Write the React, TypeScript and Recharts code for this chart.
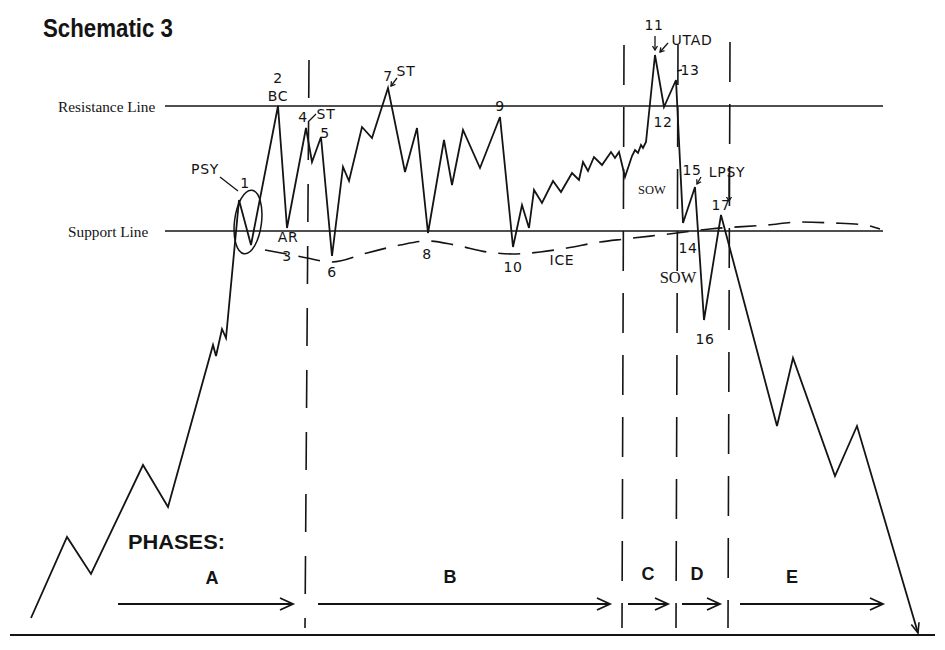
import React from 'react';
import { ComposedChart, Line, XAxis, YAxis, ReferenceLine, ReferenceDot } from 'recharts';

// ---- data (time units, price units; support = 100, resistance = 125) ----
const priceT = [3.1, 6.7, 9.1, 14.3, 16.8, 21.3, 21.6, 22.2, 22.6, 23.9, 25.1, 27.8, 28.7, 30.6, 31.2, 32.1, 33.2, 34.3, 34.9, 36.2, 37.2, 38.8, 40.5, 41.7, 42.8, 44.4, 45.2, 46.3, 48.0, 50.0, 51.3, 52.2, 52.9, 53.4, 54.2, 55.3, 56.1, 57.2, 57.9, 58.3, 58.8, 59.4, 60.2, 61.1, 61.5, 61.9, 62.5, 63.2, 63.5, 63.8, 64.1, 64.3, 64.6, 65.5, 66.4, 67.6, 68.3, 69.5, 70.4, 72.1, 77.7, 79.3, 83.5, 85.7, 91.8];
const priceP = [22.6, 38.8, 31.4, 53.2, 44.8, 77.2, 75.0, 80.4, 78.6, 106.2, 97.2, 125.0, 100.6, 120.6, 113.8, 118.8, 95.0, 112.8, 110.0, 120.8, 118.6, 128.6, 111.8, 120.6, 99.6, 118.2, 109.2, 120.2, 112.6, 122.8, 96.8, 105.2, 100.6, 108.2, 105.6, 110.0, 107.8, 111.6, 110.2, 113.8, 112.0, 114.8, 113.2, 115.8, 114.6, 115.8, 110.8, 115.0, 116.2, 115.6, 117.2, 116.6, 117.8, 135.2, 124.8, 130.2, 101.6, 108.8, 82.2, 103.2, 61.0, 74.6, 51.0, 61.0, 19.6];

const iceT = [26.5, 28.7, 30.7, 33.2, 36.7, 40.0, 42.7, 45.5, 48.7, 51.3, 54.0, 56.7, 60.0, 62.5, 67.7, 71.0, 76.7, 80.0, 83.3, 86.5, 88.0];
const iceP = [96.2, 95.4, 94.6, 93.8, 95.6, 97.2, 98.0, 97.2, 95.8, 95.4, 95.8, 96.6, 97.8, 98.4, 99.6, 100.4, 101.2, 101.8, 101.6, 101.2, 100.4];

const levelNames = ['Resistance Line', 'Support Line'];
const levelP = [125, 100];
const levelStartT = 16.5;
const levelEndT = 88.3;
const levelLabelT = [5.8, 6.8];

const phaseNames = ['A', 'B', 'C', 'D', 'E'];
const phaseLabelT = [21.2, 45.0, 64.8, 69.7, 79.2];
const phaseLabelP = [30.6, 30.8, 31.4, 31.4, 30.8];
const phaseArrowStart = [11.8, 31.8, 62.8, 68.2, 74.0];
const phaseArrowEnd = [29.3, 61.0, 66.8, 72.0, 88.3];
const phaseArrowP = 25.4;

const boundaryTopT = [30.9, 62.4, 67.8, 73.0];
const boundaryBottomT = [30.5, 62.2, 67.6, 72.8];
const boundaryTopP = [134.2, 137.2, 137.2, 137.8];
const boundaryBottomP = 20.6;

const baseLineP = 19.2;
const baseLineT = [1.0, 93.5];

const eventLabels = ['PSY', '1', '2', 'BC', 'AR', '3', '4', 'ST', '5', '6', '7', 'ST', '8', '9', '10', 'ICE', '11', 'UTAD', '13', '12', '15', 'LPSY', '17', '14', '16'];
const eventLabelT = [20.5, 24.5, 27.8, 27.8, 28.8, 28.7, 30.3, 32.6, 32.5, 33.2, 38.8, 40.6, 42.7, 50.0, 51.3, 56.2, 65.4, 69.2, 69.0, 66.3, 69.2, 72.7, 72.1, 68.8, 70.5];
const eventLabelP = [112.4, 109.6, 130.6, 127.0, 98.8, 95.0, 122.8, 123.4, 119.6, 91.8, 131.0, 132.0, 95.4, 125.0, 92.8, 94.2, 141.2, 138.2, 132.2, 121.8, 112.2, 111.8, 105.2, 96.6, 78.4];

const sowLabels = ['SOW', 'SOW'];
const sowT = [65.2, 67.8];
const sowP = [108.2, 90.8];

// leader lines: [t1, p1, t2, p2, hasHead]
const leaders: [number, number, number, number, boolean][] = [
  [22.0, 110.8, 23.8, 108.0, false],
  [30.8, 121.8, 31.6, 123.4, false],
  [39.7, 130.6, 39.1, 129.0, true],
  [65.5, 139.0, 65.5, 136.2, true],
  [66.8, 137.6, 66.0, 135.8, true],
  [67.7, 132.0, 68.2, 132.2, false],
  [70.1, 110.8, 69.7, 109.4, true],
  [72.9, 111.6, 72.9, 106.0, true],
];

const ellipseT = 24.8;
const ellipseP = 101.8;

const priceData = priceT.map((t, i) => ({ t, p: priceP[i] }));
const iceData = iceT.map((t, i) => ({ t, p: iceP[i] }));

const INK = '#141414';
const HAND = "'DejaVu Sans', 'Noto Sans', sans-serif";
const SERIF = "'Liberation Serif', 'DejaVu Serif', serif";
const BOLD = "'Liberation Sans', Arial, sans-serif";

function arrowShape(headLen: number, halfW: number, sw: number, headOnly = false) {
  return (props: any) => {
    const { x1, y1, x2, y2 } = props;
    const dx = x2 - x1;
    const dy = y2 - y1;
    const len = Math.hypot(dx, dy) || 1;
    const ux = dx / len;
    const uy = dy / len;
    const bx = x2 - ux * headLen;
    const by = y2 - uy * headLen;
    const px = -uy * halfW;
    const py = ux * halfW;
    return (
      <g>
        {!headOnly && <line x1={x1} y1={y1} x2={x2} y2={y2} stroke={INK} strokeWidth={sw} />}
        <polyline
          points={`${bx + px},${by + py} ${x2},${y2} ${bx - px},${by - py}`}
          fill="none"
          stroke={INK}
          strokeWidth={sw}
        />
      </g>
    );
  };
}

function textShape(text: string, style: any) {
  return (props: any) => (
    <text x={props.cx} y={props.cy} dominantBaseline="central" fill={INK} {...style}>
      {text}
    </text>
  );
}

export default function App() {
  return (
    <div style={{ position: 'absolute', left: 0, top: 0, width: 945, height: 650, background: '#fff' }}>
      <ComposedChart width={945} height={650} margin={{ top: 0, right: 0, bottom: 0, left: 0 }}>
        <XAxis type="number" dataKey="t" domain={[0, 94.5]} hide allowDataOverflow />
        <YAxis type="number" dataKey="p" domain={[16.2, 146.2]} hide allowDataOverflow />

        {levelP.map((p, i) => (
          <ReferenceLine
            key={'lvl' + i}
            segment={[{ x: levelStartT, y: p }, { x: levelEndT, y: p }]}
            stroke={INK}
            strokeWidth={1.5}
            ifOverflow="visible"
          />
        ))}

        {boundaryTopT.map((t, i) => (
          <ReferenceLine
            key={'bd' + i}
            segment={[{ x: t, y: boundaryTopP[i] }, { x: boundaryBottomT[i], y: boundaryBottomP }]}
            stroke={INK}
            strokeWidth={1.6}
            strokeDasharray={i === 0 ? '38 24' : '40 22'}
            ifOverflow="visible"
          />
        ))}

        <ReferenceLine
          segment={[{ x: baseLineT[0], y: baseLineP }, { x: baseLineT[1], y: baseLineP }]}
          stroke={INK}
          strokeWidth={2}
          ifOverflow="visible"
        />

        {phaseArrowStart.map((s, i) => (
          <ReferenceLine
            key={'pa' + i}
            segment={[{ x: s, y: phaseArrowP }, { x: phaseArrowEnd[i], y: phaseArrowP }]}
            ifOverflow="visible"
            shape={arrowShape(13, 6, 1.8)}
          />
        ))}

        <Line
          data={iceData}
          dataKey="p"
          type="monotone"
          stroke={INK}
          strokeWidth={1.6}
          strokeDasharray="22 12"
          dot={false}
          activeDot={false}
          isAnimationActive={false}
        />
        <Line
          data={priceData}
          dataKey="p"
          type="linear"
          stroke={INK}
          strokeWidth={1.8}
          dot={false}
          activeDot={false}
          isAnimationActive={false}
        />

        <ReferenceLine
          segment={[
            { x: priceT[priceT.length - 2], y: priceP[priceP.length - 2] },
            { x: priceT[priceT.length - 1], y: priceP[priceP.length - 1] },
          ]}
          ifOverflow="visible"
          shape={arrowShape(10, 4, 1.6, true)}
        />

        {leaders.map((l, i) => (
          <ReferenceLine
            key={'ld' + i}
            segment={[{ x: l[0], y: l[1] }, { x: l[2], y: l[3] }]}
            ifOverflow="visible"
            shape={l[4] ? arrowShape(4, 2.5, 1.3) : (p: any) => (
              <line x1={p.x1} y1={p.y1} x2={p.x2} y2={p.y2} stroke={INK} strokeWidth={1.3} />
            )}
          />
        ))}

        <ReferenceDot
          x={ellipseT}
          y={ellipseP}
          ifOverflow="visible"
          shape={(p: any) => (
            <ellipse
              cx={p.cx}
              cy={p.cy}
              rx={13.5}
              ry={32}
              transform={`rotate(7 ${p.cx} ${p.cy})`}
              fill="none"
              stroke={INK}
              strokeWidth={1.5}
            />
          )}
        />

        {eventLabels.map((txt, i) => (
          <ReferenceDot
            key={'ev' + i}
            x={eventLabelT[i]}
            y={eventLabelP[i]}
            ifOverflow="visible"
            shape={textShape(txt, { fontFamily: HAND, fontSize: 14, textAnchor: 'middle', letterSpacing: 0.7 })}
          />
        ))}

        {sowLabels.map((txt, i) => (
          <ReferenceDot
            key={'sow' + i}
            x={sowT[i]}
            y={sowP[i]}
            ifOverflow="visible"
            shape={textShape(txt, { fontFamily: SERIF, fontSize: i === 0 ? 12.5 : 16.5, textAnchor: 'middle' })}
          />
        ))}

        {levelNames.map((txt, i) => (
          <ReferenceDot
            key={'ln' + i}
            x={levelLabelT[i]}
            y={levelP[i]}
            ifOverflow="visible"
            shape={textShape(txt, { fontFamily: SERIF, fontSize: 15.3, textAnchor: 'start' })}
          />
        ))}

        <ReferenceDot
          x={4.3}
          y={140.6}
          ifOverflow="visible"
          shape={textShape('Schematic 3', {
            fontFamily: "'Liberation Sans Narrow', 'Liberation Sans', Arial, sans-serif",
            fontWeight: 700,
            fontSize: 26,
            textAnchor: 'start',
            textLength: 130,
            lengthAdjust: 'spacingAndGlyphs',
          })}
        />

        <ReferenceDot
          x={12.8}
          y={38}
          ifOverflow="visible"
          shape={textShape('PHASES:', {
            fontFamily: BOLD,
            fontWeight: 700,
            fontSize: 21,
            textAnchor: 'start',
            textLength: 97,
            lengthAdjust: 'spacingAndGlyphs',
          })}
        />

        {phaseNames.map((txt, i) => (
          <ReferenceDot
            key={'ph' + i}
            x={phaseLabelT[i]}
            y={phaseLabelP[i]}
            ifOverflow="visible"
            shape={textShape(txt, { fontFamily: BOLD, fontWeight: 700, fontSize: 18, textAnchor: 'middle' })}
          />
        ))}
      </ComposedChart>
    </div>
  );
}
